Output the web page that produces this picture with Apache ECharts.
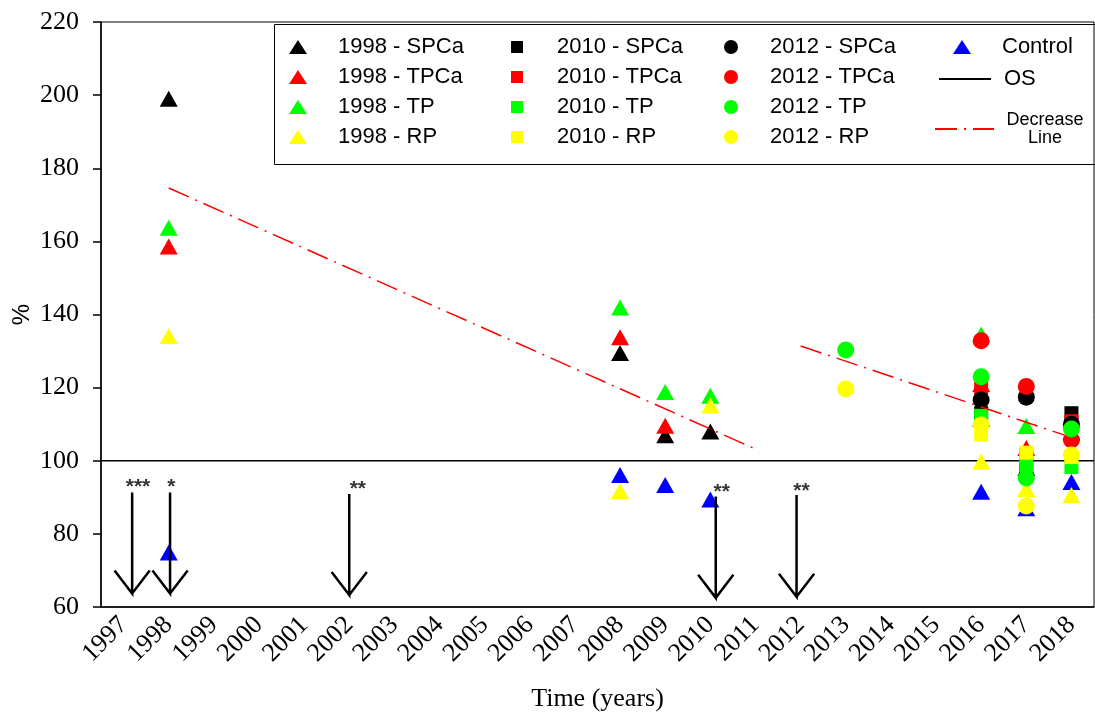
<!DOCTYPE html>
<html><head><meta charset="utf-8">
<script src="https://cdn.jsdelivr.net/npm/echarts@6/dist/echarts.min.js"></script>
<style>html,body{margin:0;padding:0;background:#fff}#c{width:1095px;height:713px}</style>
</head><body><div id="c"></div>
<script>
// ---- categories / ticks ----
const years = ['1997','1998','1999','2000','2001','2002','2003','2004','2005','2006','2007','2008','2009','2010','2011','2012','2013','2014','2015','2016','2017','2018'];
const yMin = 60, yMax = 220, yStep = 20;

// ---- series values [year, %] ----
const control   = [['1998',74.9],['2008',96.1],['2009',93.4],['2010',89.4],['2016',91.5],['2017',87],['2018',94.2]];
const spca1998  = [['1998',199],['2008',129.5],['2009',107],['2010',108],['2016',111.5],['2017',98],['2018',107.8]];
const tpca1998  = [['1998',158.6],['2008',133.8],['2009',109.6],['2016',121],['2017',103.5],['2018',111.3]];
const tp1998    = [['1998',163.7],['2008',141.9],['2009',118.8],['2010',117.8],['2016',134.5],['2017',109.5]];
const rp1998    = [['1998',134.1],['2008',91.7],['2010',115.2],['2016',99.7],['2017',92.3],['2018',90.6]];
const spca2010  = [['2016',113],['2017',97.5],['2018',113]];
const tpca2010  = [['2016',119.9],['2017',101.5],['2018',110.8]];
const tp2010    = [['2016',112.3],['2017',98.8],['2018',98.3]];
const rp2010    = [['2016',107.2],['2017',102.2],['2018',101]];
const spca2012  = [['2016',116.6],['2017',117.4],['2018',110]];
const tpca2012  = [['2016',132.8],['2017',120.3],['2018',105.7]];
const tp2012    = [['2013',130.3],['2016',123],['2017',95.3],['2018',108.7]];
const rp2012    = [['2013',119.6],['2016',109.8],['2017',87.6],['2018',101.6]];

// reference line (OS) and decrease lines, x in years
const osLine    = [[1996.5,100],[2018.5,100]];
const decrease1 = [[1998,174.6],[2011,103.2]];
const decrease2 = [[2012,131.4],[2017.85,107.0]];

// significance arrows: x position (years), top and tip values
const arrowX   = [1997.19, 1998.03, 2002.0, 2010.12, 2011.91];
const arrowTop = [91.3, 91.3, 90.9, 90.2, 90.6];
const arrowTip = [63.7, 63.7, 63.3, 62.5, 62.8];
const starText = ['***','*','**','**','**'];
const starX    = [1997.32, 1998.06, 2002.19, 2010.25, 2012.02];
const starY    = [92.4, 92.4, 91.9, 91.2, 91.4];

const headDX = 0.39, headDY = 6.3;

function scatter(name, data, symbol, color, size){
  return {type:'scatter', name, data, symbol, symbolSize:size, itemStyle:{color, opacity:1},
    xAxisIndex:0, yAxisIndex:0, silent:true, emphasis:{disabled:true}};
}
const TRI=[18,16], SQ=14, CIR=17;
const series = [
  scatter('Control', control, 'triangle', '#0000ff', TRI),
  scatter('1998 - SPCa', spca1998, 'triangle', '#000000', TRI),
  scatter('1998 - TPCa', tpca1998, 'triangle', '#ff0000', TRI),
  scatter('1998 - TP', tp1998, 'triangle', '#00ff00', TRI),
  scatter('1998 - RP', rp1998, 'triangle', '#ffff00', TRI),
  scatter('2010 - SPCa', spca2010, 'rect', '#000000', SQ),
  scatter('2010 - TPCa', tpca2010, 'rect', '#ff0000', SQ),
  scatter('2010 - TP', tp2010, 'rect', '#00ff00', SQ),
  scatter('2010 - RP', rp2010, 'rect', '#ffff00', SQ),
  scatter('2012 - SPCa', spca2012, 'circle', '#000000', CIR),
  scatter('2012 - TPCa', tpca2012, 'circle', '#ff0000', CIR),
  scatter('2012 - TP', tp2012, 'circle', '#00ff00', CIR),
  scatter('2012 - RP', rp2012, 'circle', '#ffff00', CIR),
  {type:'line', name:'OS', data:osLine, xAxisIndex:1, symbol:'none', silent:true,
   lineStyle:{color:'#000', width:1.5}, z:1},
  {type:'line', name:'Decrease Line', data:decrease1, xAxisIndex:1, symbol:'none', silent:true,
   lineStyle:{color:'#ff0000', width:1.5, type:[22,7,2,7]}},
  {type:'line', name:'Decrease Line', data:decrease2, xAxisIndex:1, symbol:'none', silent:true,
   lineStyle:{color:'#ff0000', width:1.5, type:[22,7,2,7]}}
];
arrowX.forEach((x,i)=>{
  series.push({type:'line', name:'arrow'+i, xAxisIndex:1, symbol:'none', silent:true,
    lineStyle:{color:'#000', width:2.5, join:'miter'},
    data:[[x,arrowTop[i]],[x,arrowTip[i]],[x-headDX,arrowTip[i]+headDY],[x,arrowTip[i]],[x+headDX,arrowTip[i]+headDY]]});
});
series.push({type:'scatter', name:'stars', xAxisIndex:1, silent:true, symbolSize:1,
  itemStyle:{color:'rgba(0,0,0,0)'},
  data: starX.map((x,i)=>({name:starText[i], value:[x,starY[i]]})),
  label:{show:true, position:'inside', formatter:p=>p.name, color:'#000',
    fontFamily:'Liberation Sans', fontSize:21, fontWeight:'bold', offset:[0,-1]}});

function lg(opts, pad){
  return Object.assign({orient:'vertical', padding:0, itemGap:8, selectedMode:false,
    textStyle:{fontFamily:'Liberation Sans', fontSize:22, color:'#000', padding:[0,0,0,pad]}}, opts);
}

const option = {
  backgroundColor:'#fff',
  animation:false,
  grid:{left:101, right:1, top:22, bottom:106, show:true, borderColor:'#000', borderWidth:1,
    outerBoundsMode:'none', containLabel:false},
  legend:[
    lg({left:289, top:36, itemWidth:18, itemHeight:14, data:['1998 - SPCa','1998 - TPCa','1998 - TP','1998 - RP']}, 26),
    lg({left:511, top:36, itemWidth:12, itemHeight:12, data:['2010 - SPCa','2010 - TPCa','2010 - TP','2010 - RP']}, 29),
    lg({left:724, top:36, itemWidth:14, itemHeight:14, data:['2012 - SPCa','2012 - TPCa','2012 - TP','2012 - RP']}, 27),
    lg({left:953, top:36, itemWidth:18, itemHeight:14, data:['Control']}, 26),
    lg({left:938, top:68, itemWidth:52, itemHeight:14, data:[{name:'OS', itemStyle:{opacity:0}}]}, 8),
    lg({left:934, top:111, itemWidth:59, itemHeight:14,
      formatter:'{c|Decrease}\n{c|Line}',
      data:[{name:'Decrease Line', itemStyle:{opacity:0}}]}, 7)
  ],
  graphic:[{type:'rect', left:272, top:22, shape:{width:821, height:140},
    style:{fill:'none', stroke:'#000', lineWidth:1}, silent:true}],
  xAxis:[
    {type:'category', data:years, boundaryGap:true,
     name:'Time (years)', nameLocation:'middle', nameGap:79, nameMoveOverlap:false,
     nameTextStyle:{fontFamily:'Liberation Serif', fontSize:26, color:'#000'},
     axisLine:{lineStyle:{color:'#000', width:1.5}},
     axisTick:{alignWithLabel:true, length:8, lineStyle:{color:'#000', width:1.5}},
     axisLabel:{interval:0, rotate:45, margin:14, fontFamily:'Liberation Serif', fontSize:26, color:'#000'},
     splitLine:{show:false}},
    {type:'value', min:1996.5, max:2018.5, show:false, splitLine:{show:false}}
  ],
  yAxis:{type:'value', min:yMin, max:yMax, interval:yStep,
    name:'%', nameLocation:'middle', nameGap:67, nameRotate:90, nameMoveOverlap:false,
    nameTextStyle:{fontFamily:'Liberation Sans', fontSize:24, color:'#000'},
    axisLine:{show:true, lineStyle:{color:'#000', width:1.5}},
    axisTick:{show:true, length:8, lineStyle:{color:'#000', width:1.5}},
    axisLabel:{margin:22, fontFamily:'Liberation Serif', fontSize:26, color:'#000'},
    splitLine:{show:false}},
  series
};
// rich style for the two-line "Decrease Line" legend label
option.legend[5].textStyle.rich = {c:{width:78, align:'center', fontSize:18, lineHeight:18,
  fontFamily:'Liberation Sans', color:'#000'}};
const chart = echarts.init(document.getElementById('c'), null, {renderer:'canvas'});
chart.setOption(option);
</script>
</body></html>
